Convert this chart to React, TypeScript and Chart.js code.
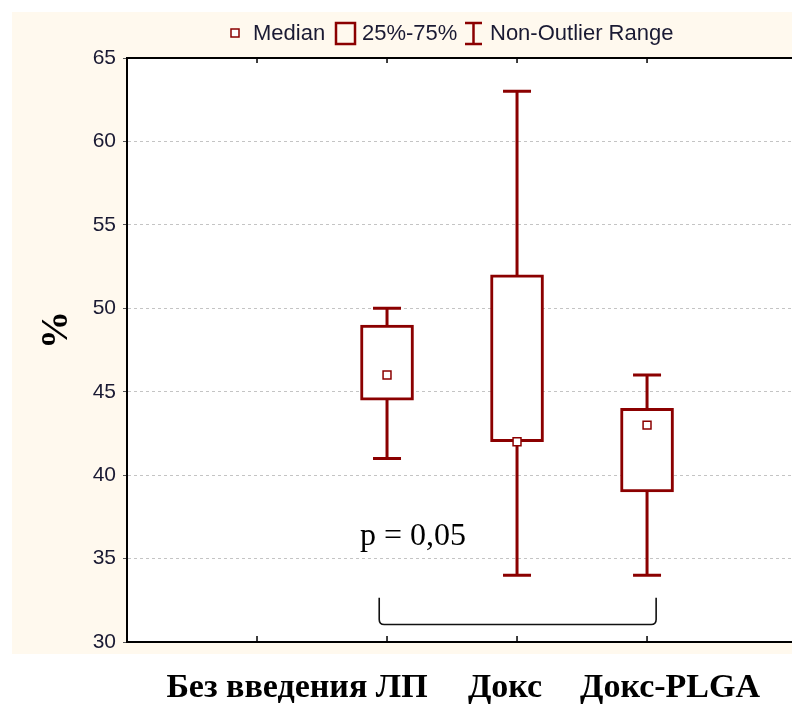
import React, { useEffect, useRef } from "react";
import { Chart, registerables } from "chart.js";

Chart.register(...registerables);

// ---- data ----
const categories = ["Без введения ЛП", "Докс", "Докс-PLGA"];
const categoryX = [2, 3, 4];
const medians = [46, 42, 43];
const q1 = [44.5, 42, 39];
const q3 = [49, 52, 44];
const whiskerMin = [41, 34, 34];
const whiskerMax = [50, 63, 46];
const yTicks = [30, 35, 40, 45, 50, 55, 60, 65];
const xTicks = [1, 2, 3, 4];
const pLabel = "p = 0,05";
const yTitle = "%";
const legendLabels = ["Median", "25%-75%", "Non-Outlier Range"];

const RED = "#8B0000";
const TEXT = "#1a1a33";
const CREAM = "#FFF9EE";

const drawPlugin = {
  id: "boxDecor",
  beforeDraw(chart: any) {
    const { ctx, chartArea } = chart;
    ctx.save();
    ctx.fillStyle = "#ffffff";
    ctx.fillRect(0, 0, chart.width, chart.height);
    ctx.fillStyle = CREAM;
    ctx.fillRect(12, 12, chart.width - 12, 642);
    ctx.fillStyle = "#ffffff";
    ctx.fillRect(chartArea.left, chartArea.top, chartArea.right - chartArea.left, chartArea.bottom - chartArea.top);
    ctx.restore();
  },
  beforeDatasetsDraw(chart: any) {
    const { ctx, scales } = chart;
    const xs = scales.x;
    const ys = scales.y;
    ctx.save();
    ctx.strokeStyle = RED;
    ctx.lineWidth = 3;
    const capHalf = 14;
    categoryX.forEach((cx, i) => {
      const px = xs.getPixelForValue(cx);
      const top = ys.getPixelForValue(whiskerMax[i]);
      const bot = ys.getPixelForValue(whiskerMin[i]);
      ctx.beginPath();
      ctx.moveTo(px, top);
      ctx.lineTo(px, bot);
      ctx.moveTo(px - capHalf, top);
      ctx.lineTo(px + capHalf, top);
      ctx.moveTo(px - capHalf, bot);
      ctx.lineTo(px + capHalf, bot);
      ctx.stroke();
    });
    ctx.restore();
  },
  afterDraw(chart: any) {
    const { ctx, chartArea, scales } = chart;
    const xs = scales.x;
    const ys = scales.y;
    ctx.save();
    // top and bottom frame lines
    ctx.strokeStyle = "#000";
    ctx.lineWidth = 2;
    ctx.beginPath();
    ctx.moveTo(chartArea.left, chartArea.top);
    ctx.lineTo(chartArea.right, chartArea.top);
    ctx.moveTo(chartArea.left - 1, chartArea.bottom);
    ctx.lineTo(chartArea.right, chartArea.bottom);
    ctx.stroke();
    // inward x ticks
    ctx.lineWidth = 1.5;
    ctx.beginPath();
    xTicks.forEach((t) => {
      const px = xs.getPixelForValue(t);
      ctx.moveTo(px, chartArea.bottom);
      ctx.lineTo(px, chartArea.bottom - 6);
      ctx.moveTo(px, chartArea.top);
      ctx.lineTo(px, chartArea.top + 5);
    });
    ctx.stroke();

    // bracket
    const bl = xs.getPixelForValue(1.94);
    const br = xs.getPixelForValue(4.07);
    const bt = ys.getPixelForValue(32.65);
    const bb = ys.getPixelForValue(31.05);
    const r = 5;
    ctx.lineWidth = 1.6;
    ctx.strokeStyle = "#111";
    ctx.beginPath();
    ctx.moveTo(bl, bt);
    ctx.lineTo(bl, bb - r);
    ctx.quadraticCurveTo(bl, bb, bl + r, bb);
    ctx.lineTo(br - r, bb);
    ctx.quadraticCurveTo(br, bb, br, bb - r);
    ctx.lineTo(br, bt);
    ctx.stroke();

    // p label
    ctx.fillStyle = "#000";
    ctx.font = "32px 'Liberation Serif', 'Times New Roman', serif";
    ctx.textAlign = "center";
    ctx.textBaseline = "alphabetic";
    ctx.fillText(pLabel, 413, 545);

    // category labels
    ctx.font = "bold 34px 'Liberation Serif', 'Times New Roman', serif";
    const labelCenters = [297, 505, 670];
    categories.forEach((c, i) => {
      ctx.fillText(c, labelCenters[i], 697);
    });

    // y title
    ctx.save();
    ctx.translate(57, 330);
    ctx.rotate(-Math.PI / 2);
    ctx.font = "bold 38px 'Liberation Serif', 'Times New Roman', serif";
    ctx.textBaseline = "middle";
    ctx.fillText(yTitle, 0, 0);
    ctx.restore();

    // legend
    ctx.font = "22px 'Liberation Sans', Arial, sans-serif";
    ctx.textAlign = "left";
    ctx.strokeStyle = RED;
    ctx.lineWidth = 1.5;
    ctx.fillStyle = "#fff";
    ctx.fillRect(231, 29, 8, 8);
    ctx.strokeRect(231, 29, 8, 8);
    ctx.fillStyle = TEXT;
    ctx.fillText(legendLabels[0], 253, 40);
    ctx.lineWidth = 2.5;
    ctx.strokeRect(336, 23, 19, 21);
    ctx.fillText(legendLabels[1], 362, 40);
    ctx.beginPath();
    ctx.moveTo(465, 23);
    ctx.lineTo(482, 23);
    ctx.moveTo(473.5, 23);
    ctx.lineTo(473.5, 44);
    ctx.moveTo(465, 44);
    ctx.lineTo(482, 44);
    ctx.stroke();
    ctx.fillText(legendLabels[2], 490, 40);
    ctx.restore();
  },
};

export default function App() {
  const ref = useRef<HTMLCanvasElement | null>(null);
  useEffect(() => {
    if (!ref.current) return;
    const chart = new Chart(ref.current, {
      type: "bar",
      data: {
        datasets: [
          {
            type: "bar",
            data: categoryX.map((x, i) => ({ x, y: [q1[i], q3[i]] })) as any,
            backgroundColor: "#ffffff",
            borderColor: RED,
            borderWidth: 3,
            borderSkipped: false,
            barThickness: 53,
            order: 2,
          },
          {
            type: "scatter",
            data: categoryX.map((x, i) => ({ x, y: medians[i] })),
            pointStyle: "rect",
            pointRadius: 5.6,
            pointBackgroundColor: "#ffffff",
            pointBorderColor: RED,
            pointBorderWidth: 1.5,
            order: 1,
          } as any,
        ],
      },
      options: {
        responsive: false,
        maintainAspectRatio: false,
        devicePixelRatio: 1,
        animation: false,
        layout: { autoPadding: false, padding: { left: 0, right: 0, top: 58, bottom: 65 } },
        plugins: { legend: { display: false }, tooltip: { enabled: false } },
        scales: {
          x: {
            type: "linear",
            min: 0,
            max: 5.115,
            offset: false,
            ticks: { display: false },
            grid: { display: false },
            border: { display: false },
            afterFit: (s: any) => {
              s.height = 0;
            },
          },
          y: {
            type: "linear",
            min: 30,
            max: 65,
            afterBuildTicks: (s: any) => {
              s.ticks = yTicks.map((v) => ({ value: v }));
            },
            ticks: {
              stepSize: 5,
              padding: 7,
              color: TEXT,
              font: { family: "'Liberation Sans', Arial, sans-serif", size: 21 },
            },
            grid: {
              color: (c: any) => (c.tick && (c.tick.value === 30 || c.tick.value === 65) ? "rgba(0,0,0,0)" : "#c4c4c4"),
              lineWidth: 1,
              tickColor: "#555",
              tickLength: 4,
              tickBorderDash: [],
            } as any,
            border: { display: true, color: "#000", width: 2, dash: [3, 3] } as any,
            afterFit: (s: any) => {
              s.width = 127;
            },
          },
        },
      },
      plugins: [drawPlugin],
    });
    return () => chart.destroy();
  }, []);
  return (
    <div style={{ position: "absolute", left: 0, top: 0, width: 792, height: 707 }}>
      <canvas ref={ref} width={792} height={707} />
    </div>
  );
}
